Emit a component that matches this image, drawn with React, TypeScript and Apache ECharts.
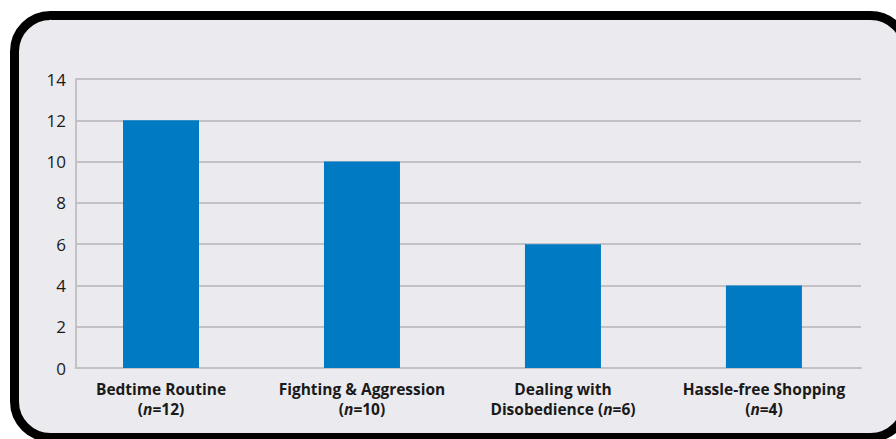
import React, { useEffect, useRef } from "react";
import * as echarts from "echarts";

// Programme areas and the number of families in each
const topicLines: string[][] = [
  ["Bedtime Routine"],
  ["Fighting & Aggression"],
  ["Dealing with", "Disobedience"],
  ["Hassle-free Shopping"],
];
const counts: number[] = [12, 10, 6, 4];
const yTicks: number[] = [0, 2, 4, 6, 8, 10, 12, 14];

const BAR_BLUE = "#007bc3";
const GRID_GREY = "#c2c2c6";
const PANEL = "#ebeaef";
const FONT = "'Open Sans', 'Noto Sans', sans-serif";

// Rich label: topic name, then "(n=…)" with an italic n
function topicLabel(i: number): string {
  const lines = topicLines[i];
  const nPart = `{b|(}{i|n}{b|=${counts[i]})}`;
  if (lines.length === 1) return `{b|${lines[0]}}\n${nPart}`;
  return `{b|${lines[0]}}\n{b|${lines[1]} }${nPart}`;
}

export default function App() {
  const ref = useRef<HTMLDivElement>(null);

  useEffect(() => {
    if (!ref.current) return;
    const chart = echarts.init(ref.current, undefined, { renderer: "svg" });
    chart.setOption({
      animation: false,
      backgroundColor: "#ffffff",
      graphic: [
        {
          type: "rect",
          z: -10,
          shape: { x: 14.5, y: 15.5, width: 892, height: 422, r: 36 },
          style: { fill: PANEL, stroke: "#000000", lineWidth: 9 },
          silent: true,
        },
      ],
      grid: { left: 76, right: 35, top: 79, bottom: 71, containLabel: false },
      xAxis: {
        type: "value",
        min: -0.423,
        max: 3.483,
        splitLine: { show: false },
        axisTick: { show: false },
        axisLine: { show: true, onZero: false, lineStyle: { color: GRID_GREY, width: 2 } },
        axisLabel: {
          customValues: counts.map((_, i) => i),
          formatter: (v: number) => topicLabel(Math.round(v)),
          margin: 11,
          align: "center",
          lineHeight: 20,
          rich: {
            b: { fontFamily: FONT, fontSize: 15.5, fontWeight: "bold", color: "#1a1a1a", lineHeight: 20 },
            i: { fontFamily: FONT, fontSize: 15.5, fontWeight: "bold", fontStyle: "italic", color: "#1a1a1a", lineHeight: 20 },
          },
        },
      },
      yAxis: {
        type: "value",
        min: yTicks[0],
        max: yTicks[yTicks.length - 1],
        interval: 2,
        axisLine: { show: true, onZero: false, lineStyle: { color: GRID_GREY, width: 2 } },
        axisTick: { show: false },
        splitLine: { show: true, lineStyle: { color: GRID_GREY, width: 2 } },
        axisLabel: { margin: 10, fontFamily: FONT, fontSize: 17, color: "#1a1a1a" },
      },
      series: [
        {
          type: "bar",
          data: counts.map((c, i) => [i, c]),
          barWidth: 76,
          itemStyle: { color: BAR_BLUE },
          z: 3,
        },
      ],
    });
    return () => chart.dispose();
  }, []);

  return (
    <div
      ref={ref}
      style={{ position: "absolute", left: 0, top: 0, width: 896, height: 439 }}
    />
  );
}
